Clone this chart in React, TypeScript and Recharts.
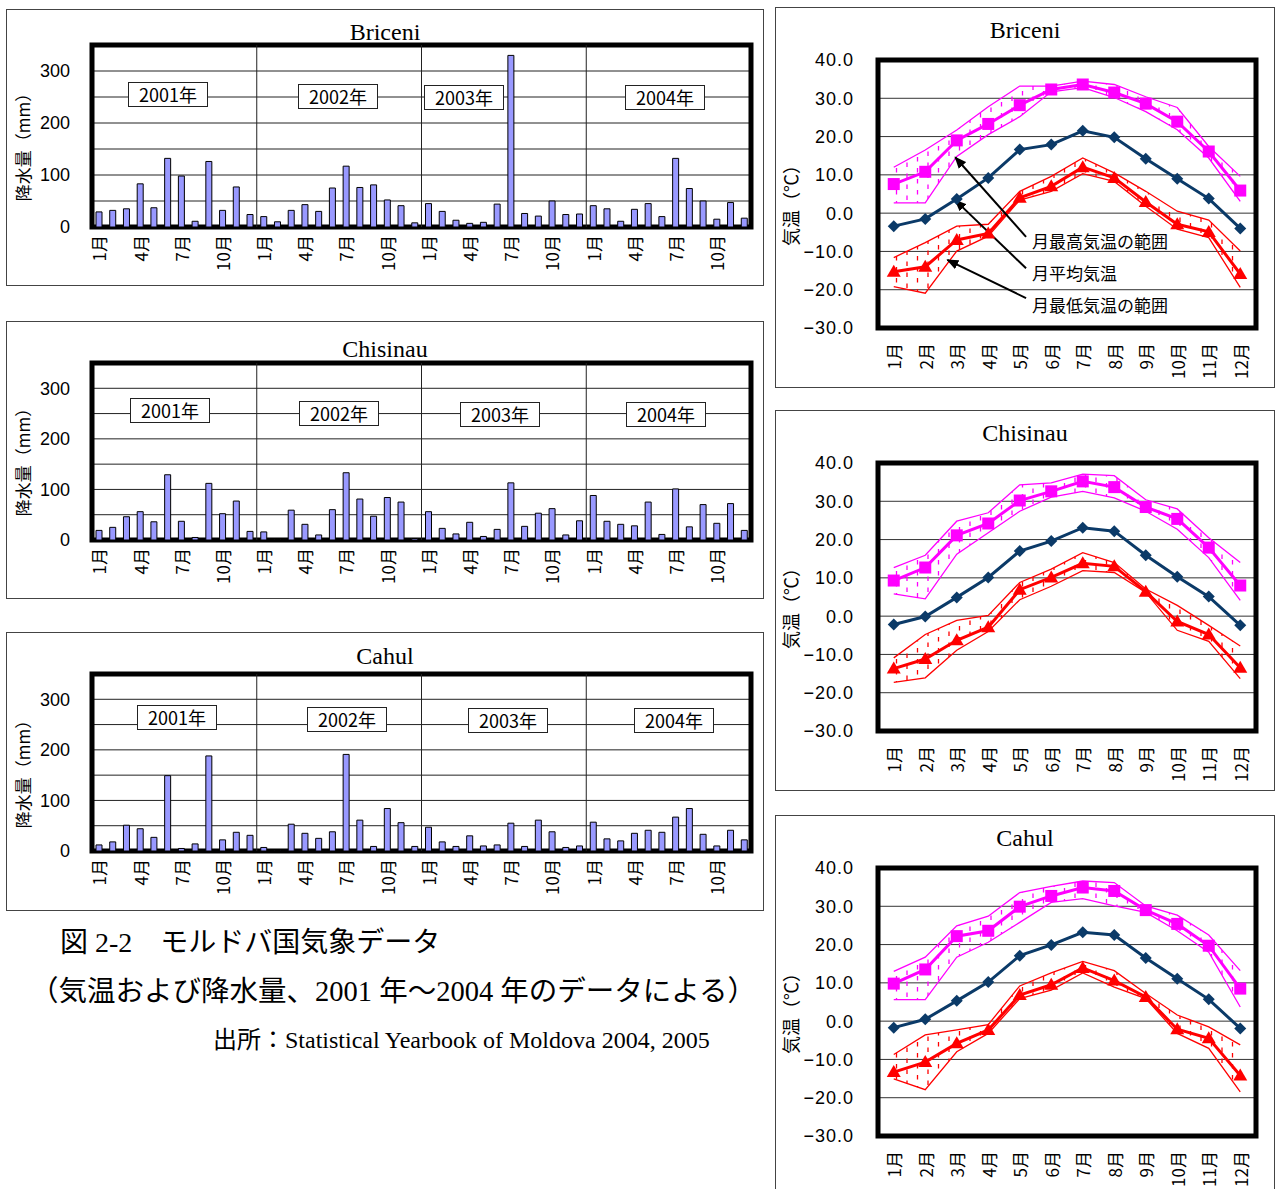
import React from "react";
import {
  Area,
  Bar,
  BarChart,
  CartesianGrid,
  ComposedChart,
  Line,
  ReferenceArea,
  ReferenceLine,
  XAxis,
  YAxis,
} from "recharts";

const YEARS = ["2001年", "2002年", "2003年", "2004年"];
const MONTHS = ["1月", "2月", "3月", "4月", "5月", "6月", "7月", "8月", "9月", "10月", "11月", "12月"];
const MONTH_NUMS = [1, 2, 3, 4, 5, 6, 7, 8, 9, 10, 11, 12];
const RAIN_TICKS = [0, 50, 100, 150, 200, 250, 300];
const TEMP_TICKS = [-30, -20, -10, 0, 10, 20, 30, 40];

// monthly precipitation (mm), Jan 2001 .. Dec 2004
const briceniRain = [
  29, 32, 35, 83, 37, 132, 98, 11, 126, 32, 77, 24,
  20, 10, 32, 43, 30, 75, 117, 76, 81, 52, 41, 8,
  45, 30, 13, 7, 9, 44, 330, 26, 21, 50, 24, 25,
  41, 35, 11, 34, 45, 20, 132, 74, 50, 15, 47, 17,
];
const chisinauRain = [
  19, 25, 46, 56, 36, 129, 37, 5, 112, 52, 77, 17,
  16, 1, 59, 31, 10, 60, 133, 81, 47, 84, 75, 3,
  56, 23, 12, 35, 7, 21, 113, 27, 53, 62, 10, 38,
  88, 37, 31, 28, 75, 11, 101, 26, 70, 33, 72, 19,
];
const cahulRain = [
  12, 18, 51, 44, 27, 149, 5, 14, 188, 22, 37, 31,
  7, 1, 53, 35, 25, 38, 191, 61, 9, 84, 56, 9,
  47, 18, 9, 30, 10, 12, 55, 9, 61, 38, 7, 10,
  57, 24, 20, 35, 41, 37, 67, 84, 33, 10, 41, 22,
];

// temperatures (°C), Jan..Dec
const briceniMax = [7.6, 10.8, 19.0, 23.3, 28.2, 32.3, 33.6, 31.5, 28.6, 23.9, 16.1, 5.9];
const briceniMaxHi = [12.0, 16.5, 21.7, 27.8, 33.2, 33.2, 34.5, 33.6, 30.4, 27.6, 17.4, 9.6];
const briceniMaxLo = [2.7, 2.7, 14.8, 20.5, 25.2, 31.7, 32.8, 30.2, 26.5, 21.8, 14.4, 3.1];
const briceniMean = [-3.4, -1.5, 3.7, 9.2, 16.6, 17.9, 21.5, 19.8, 14.2, 9.0, 3.8, -4.0];
const briceniMin = [-15.3, -14.0, -7.0, -5.3, 4.0, 7.0, 12.0, 9.2, 2.9, -2.9, -4.9, -15.9];
const briceniMinHi = [-11.6, -7.7, -3.4, -2.9, 5.7, 9.6, 14.4, 10.5, 5.7, 0.5, -1.8, -9.9];
const briceniMinLo = [-19.2, -20.9, -9.9, -6.0, 3.4, 5.7, 10.3, 8.3, 1.8, -4.2, -6.4, -19.4];

const chisinauMax = [9.3, 12.7, 21.1, 24.2, 30.2, 32.6, 35.2, 33.7, 28.5, 25.4, 17.9, 8.0];
const chisinauMaxHi = [12.7, 15.9, 24.8, 27.0, 34.3, 34.8, 37.1, 36.7, 30.4, 28.0, 20.5, 14.0];
const chisinauMaxLo = [5.8, 4.5, 16.2, 21.8, 27.4, 31.1, 32.6, 30.9, 27.4, 22.7, 15.3, 4.1];
const chisinauMean = [-2.2, -0.1, 4.9, 10.1, 17.0, 19.6, 23.1, 22.2, 15.9, 10.3, 5.1, -2.4];
const chisinauMin = [-13.7, -11.2, -6.3, -2.9, 6.9, 10.1, 13.8, 13.0, 6.4, -1.4, -4.8, -13.5];
const chisinauMinHi = [-10.9, -4.8, -1.1, 0.2, 8.8, 12.3, 16.6, 14.0, 7.1, 2.8, -2.4, -7.8];
const chisinauMinLo = [-17.3, -16.1, -8.9, -4.0, 4.3, 7.8, 11.9, 11.4, 6.2, -3.7, -6.6, -16.3];

const cahulMax = [9.8, 13.5, 22.2, 23.6, 29.9, 32.7, 34.9, 34.0, 29.0, 25.4, 19.7, 8.5];
const cahulMaxHi = [13.0, 16.7, 24.9, 27.4, 33.6, 35.2, 36.6, 36.2, 30.1, 27.7, 22.5, 13.2];
const cahulMaxLo = [5.6, 5.6, 16.7, 20.6, 25.8, 31.0, 32.0, 30.1, 28.4, 23.6, 18.0, 3.7];
const cahulMean = [-1.7, 0.5, 5.3, 10.2, 17.1, 19.9, 23.2, 22.5, 16.5, 11.1, 5.7, -1.9];
const cahulMin = [-13.3, -10.7, -5.8, -2.3, 6.8, 9.5, 13.9, 10.6, 6.3, -2.1, -4.5, -14.2];
const cahulMinHi = [-8.7, -3.6, -2.3, -0.9, 9.2, 12.6, 15.6, 13.2, 7.2, 1.6, -1.5, -6.2];
const cahulMinLo = [-15.1, -17.9, -8.0, -3.2, 5.9, 8.1, 12.6, 8.9, 5.9, -3.2, -7.1, -18.5];

const MAGENTA = "#ff00ff";
const RED = "#ff0000";
const NAVY = "#0b3a68";
const BAR_FILL = "#9999ff";

const SANS = '"Liberation Sans", "Noto Sans CJK JP", sans-serif';
const JP = '"Noto Sans CJK JP", "Liberation Sans", sans-serif';
const SERIF = '"Liberation Serif", "Noto Sans CJK JP", serif';

// month slots on the precipitation axis: slot i spans [i, i+1], 48 slots
const RAIN_LABEL_TICKS = Array.from({ length: 16 }, (_, k) => k * 3 + 0.5);
const YEAR_BOUNDS = [12, 24, 36];

// arrows of the legend notes in the Briceni chart, in data units (month, °C)
const NOTE_ARROWS = [
  [{ x: 5.2, y: -6.2 }, { x: 2.95, y: 14.6 }],
  [{ x: 5.2, y: -14.4 }, { x: 2.95, y: 3.4 }],
  [{ x: 5.2, y: -22.2 }, { x: 2.7, y: -12.2 }],
];
const NOTE_TEXTS = ["月最高気温の範囲", "月平均気温", "月最低気温の範囲"];

function Rotated({ text, cx, cy, size, font }: any) {
  return (
    <div
      style={{
        position: "absolute",
        left: cx,
        top: cy,
        transform: "translate(-50%, -50%) rotate(-90deg)",
        whiteSpace: "nowrap",
        fontSize: size,
        fontFamily: font,
        lineHeight: 1,
      }}
    >
      {text}
    </div>
  );
}

const RainTick = (props: any) => {
  const { x, y, payload } = props;
  const m = Math.floor(Number(payload.value)) % 12;
  return (
    <text
      x={x}
      y={y}
      transform={`rotate(-90 ${x} ${y})`}
      textAnchor="end"
      dominantBaseline="central"
      fontSize={17}
      fontFamily={JP}
      fill="#000"
    >
      {MONTHS[m]}
    </text>
  );
};

const TempTick = (props: any) => {
  const { x, y, payload } = props;
  return (
    <text
      x={x}
      y={y}
      transform={`rotate(-90 ${x} ${y})`}
      textAnchor="end"
      dominantBaseline="central"
      fontSize={17}
      fontFamily={JP}
      fill="#000"
    >
      {MONTHS[payload.value - 1]}
    </text>
  );
};

function RainPanel({ title, values, top, height, plotTop, plotBottom, titleY, labelY, boxes }: any) {
  const rows = values.map((v: number, i: number) => ({ slot: i + 0.5, rain: v }));
  const innerH = height - 2;
  const bottomSpace = top + height - 1 - plotBottom;
  return (
    <>
      <div
        style={{
          position: "absolute",
          left: 6,
          top,
          width: 758,
          height,
          border: "1px solid #444",
          boxSizing: "border-box",
        }}
      >
        <BarChart
          width={756}
          height={innerH}
          data={rows}
          margin={{ top: plotTop - top - 1, right: 12, bottom: 5, left: 30 }}
        >
          <CartesianGrid vertical={false} stroke="#222" />
          <XAxis
            dataKey="slot"
            type="number"
            domain={[0, 48]}
            ticks={RAIN_LABEL_TICKS}
            interval={0}
            tickLine={false}
            axisLine={false}
            tickSize={0}
            tickMargin={8}
            height={bottomSpace - 5}
            tick={RainTick}
          />
          <YAxis
            domain={[0, 350]}
            ticks={RAIN_TICKS}
            interval={0}
            tickFormatter={(v: number) => (v % 100 === 0 ? String(v) : "")}
            tick={{ fontSize: 18, fontFamily: SANS, fill: "#000" }}
            tickLine={false}
            axisLine={false}
            tickSize={0}
            tickMargin={22}
            width={55}
          />
          {YEAR_BOUNDS.map((b) => (
            <ReferenceLine key={b} x={b} stroke="#222" strokeWidth={1} />
          ))}
          <Bar dataKey="rain" barSize={6} fill={BAR_FILL} stroke="#000" strokeWidth={1} isAnimationActive={false} />
          <ReferenceArea
            x1={0}
            x2={48}
            y1={0}
            y2={350}
            fill="none"
            fillOpacity={0}
            stroke="#000"
            strokeWidth={5}
          />
        </BarChart>
      </div>
      <div
        style={{
          position: "absolute",
          left: 6,
          width: 758,
          top: titleY - 13,
          textAlign: "center",
          fontSize: 24,
          fontFamily: SERIF,
          lineHeight: "26px",
        }}
      >
        {title}
      </div>
      <Rotated text="降水量（mm）" cx={22} cy={labelY} size={17} font={JP} />
      {boxes.map((b: number[], i: number) => (
        <div
          key={i}
          style={{
            position: "absolute",
            left: b[0],
            top: b[1],
            width: 80,
            height: 25,
            boxSizing: "border-box",
            border: "1.5px solid #222",
            background: "#fff",
            fontSize: 18,
            fontFamily: JP,
            lineHeight: "22px",
            textAlign: "center",
          }}
        >
          {YEARS[i]}
        </div>
      ))}
    </>
  );
}

const squareDot = (p: any) => (
  <rect key={`s${p.index}`} x={p.cx - 6} y={p.cy - 6} width={12} height={12} fill={MAGENTA} />
);
const diamondDot = (p: any) => (
  <polygon
    key={`d${p.index}`}
    points={`${p.cx},${p.cy - 6} ${p.cx + 6},${p.cy} ${p.cx},${p.cy + 6} ${p.cx - 6},${p.cy}`}
    fill={NAVY}
  />
);
const triangleDot = (p: any) => (
  <polygon
    key={`t${p.index}`}
    points={`${p.cx},${p.cy - 7} ${p.cx + 7},${p.cy + 5} ${p.cx - 7},${p.cy + 5}`}
    fill={RED}
  />
);

function TempPanel({ id, title, top, s, notes }: any) {
  const data = MONTH_NUMS.map((m, i) => ({
    m,
    max: s.max[i],
    maxHi: s.maxHi[i],
    maxLo: s.maxLo[i],
    maxBand: [s.maxLo[i], s.maxHi[i]],
    mean: s.mean[i],
    min: s.min[i],
    minHi: s.minHi[i],
    minLo: s.minLo[i],
    minBand: [s.minLo[i], s.minHi[i]],
  }));
  return (
    <>
      <div
        style={{
          position: "absolute",
          left: 775,
          top,
          width: 500,
          height: 381,
          border: "1px solid #444",
          boxSizing: "border-box",
        }}
      >
        <ComposedChart width={498} height={379} data={data} margin={{ top: 52, right: 18, bottom: 5, left: 40 }}>
          <defs>
            <pattern id={`hm${id}`} width="21" height="11" patternUnits="userSpaceOnUse">
              <line x1="5" y1="0.5" x2="5" y2="5" stroke={MAGENTA} strokeWidth="1.3" />
              <line x1="15.5" y1="6" x2="15.5" y2="10.5" stroke={MAGENTA} strokeWidth="1.3" />
            </pattern>
            <pattern id={`hr${id}`} width="21" height="11" patternUnits="userSpaceOnUse">
              <line x1="5" y1="0.5" x2="5" y2="5" stroke={RED} strokeWidth="1.3" />
              <line x1="15.5" y1="6" x2="15.5" y2="10.5" stroke={RED} strokeWidth="1.3" />
            </pattern>
            <marker id={`ah${id}`} markerWidth="12" markerHeight="10" refX="11" refY="5" orient="auto" markerUnits="userSpaceOnUse">
              <path d="M0,0 L12,5 L0,10 z" fill="#000" />
            </marker>
          </defs>
          <CartesianGrid vertical={false} stroke="#333" />
          <XAxis
            xAxisId="tk"
            type="number"
            domain={[0.5, 12.5]}
            ticks={[1.5, 2.5, 3.5, 4.5, 5.5, 6.5, 7.5, 8.5, 9.5, 10.5, 11.5]}
            tick={false}
            axisLine={false}
            tickLine={{ stroke: "#000" }}
            tickSize={6}
            mirror
            height={0}
          />
          <XAxis
            dataKey="m"
            type="number"
            domain={[0.5, 12.5]}
            ticks={MONTH_NUMS}
            interval={0}
            tickLine={false}
            axisLine={false}
            tick={TempTick}
            tickSize={0}
            tickMargin={15}
            height={54}
          />
          <YAxis
            domain={[-30, 40]}
            ticks={TEMP_TICKS}
            interval={0}
            tickFormatter={(v: number) => v.toFixed(1).replace("-", "−")}
            tick={{ fontSize: 18, fontFamily: SANS, fill: "#000", letterSpacing: 1 }}
            tickLine={false}
            axisLine={false}
            tickSize={0}
            tickMargin={24}
            width={62}
          />
          <Area dataKey="maxBand" stroke="none" fill={`url(#hm${id})`} fillOpacity={1} isAnimationActive={false} />
          <Area dataKey="minBand" stroke="none" fill={`url(#hr${id})`} fillOpacity={1} isAnimationActive={false} />
          <Line dataKey="maxHi" stroke={MAGENTA} strokeWidth={1.3} dot={false} isAnimationActive={false} />
          <Line dataKey="maxLo" stroke={MAGENTA} strokeWidth={1.3} dot={false} isAnimationActive={false} />
          <Line dataKey="minHi" stroke={RED} strokeWidth={1.3} dot={false} isAnimationActive={false} />
          <Line dataKey="minLo" stroke={RED} strokeWidth={1.3} dot={false} isAnimationActive={false} />
          <Line dataKey="max" stroke={MAGENTA} strokeWidth={3} dot={squareDot} isAnimationActive={false} />
          <Line dataKey="mean" stroke={NAVY} strokeWidth={3} dot={diamondDot} isAnimationActive={false} />
          <Line dataKey="min" stroke={RED} strokeWidth={3} dot={triangleDot} isAnimationActive={false} />
          {notes &&
            NOTE_ARROWS.map((seg, i) => (
              <ReferenceLine
                key={`n${i}`}
                segment={seg}
                stroke="#000"
                strokeWidth={2}
                ifOverflow="extendDomain"
                shape={(p: any) => (
                  <line x1={p.x1} y1={p.y1} x2={p.x2} y2={p.y2} stroke="#000" strokeWidth={2} markerEnd={`url(#ah${id})`} />
                )}
              />
            ))}
          <ReferenceArea
            xAxisId={0}
            x1={0.5}
            x2={12.5}
            y1={-30}
            y2={40}
            fill="none"
            fillOpacity={0}
            stroke="#000"
            strokeWidth={5}
          />
        </ComposedChart>
      </div>
      <div
        style={{
          position: "absolute",
          left: 775,
          width: 500,
          top: top + 10,
          textAlign: "center",
          fontSize: 24,
          fontFamily: SERIF,
          lineHeight: "26px",
        }}
      >
        {title}
      </div>
      <Rotated text="気温（℃）" cx={790} cy={top + 194} size={18} font={JP} />
      {notes &&
        NOTE_TEXTS.map((t, i) => (
          <div
            key={t}
            style={{
              position: "absolute",
              left: 1032,
              top: top + 224 + i * 32,
              fontSize: 17,
              fontFamily: JP,
              lineHeight: "20px",
              whiteSpace: "nowrap",
            }}
          >
            {t}
          </div>
        ))}
    </>
  );
}

export default function App() {
  return (
    <div style={{ position: "absolute", left: 0, top: 0, width: 1275, height: 1189, background: "#fff", overflow: "hidden" }}>
      <RainPanel
        title="Briceni"
        values={briceniRain}
        top={9}
        height={277}
        plotTop={45}
        plotBottom={227}
        titleY={32}
        labelY={143}
        boxes={[[128, 82], [298, 84], [424, 85], [625, 85]]}
      />
      <RainPanel
        title="Chisinau"
        values={chisinauRain}
        top={321}
        height={278}
        plotTop={363}
        plotBottom={540}
        titleY={349}
        labelY={458}
        boxes={[[130, 398], [299, 401], [460, 402], [626, 402]]}
      />
      <RainPanel
        title="Cahul"
        values={cahulRain}
        top={632}
        height={279}
        plotTop={674}
        plotBottom={851}
        titleY={656}
        labelY={770}
        boxes={[[137, 705], [307, 707], [468, 708], [634, 708]]}
      />
      <TempPanel
        id="b"
        title="Briceni"
        top={7}
        notes
        s={{ max: briceniMax, maxHi: briceniMaxHi, maxLo: briceniMaxLo, mean: briceniMean, min: briceniMin, minHi: briceniMinHi, minLo: briceniMinLo }}
      />
      <TempPanel
        id="c"
        title="Chisinau"
        top={410}
        s={{ max: chisinauMax, maxHi: chisinauMaxHi, maxLo: chisinauMaxLo, mean: chisinauMean, min: chisinauMin, minHi: chisinauMinHi, minLo: chisinauMinLo }}
      />
      <TempPanel
        id="h"
        title="Cahul"
        top={815}
        s={{ max: cahulMax, maxHi: cahulMaxHi, maxLo: cahulMaxLo, mean: cahulMean, min: cahulMin, minHi: cahulMinHi, minLo: cahulMinLo }}
      />
      <div style={{ position: "absolute", left: 60, top: 926, fontSize: 28, fontFamily: SERIF, whiteSpace: "nowrap", lineHeight: "34px" }}>
        図 2-2　モルドバ国気象データ
      </div>
      <div style={{ position: "absolute", left: 30, top: 975, fontSize: 28.5, fontFamily: SERIF, whiteSpace: "nowrap", lineHeight: "34px" }}>
        （気温および降水量、2001 年～2004 年のデータによる）
      </div>
      <div style={{ position: "absolute", left: 213, top: 1026, fontSize: 24, fontFamily: SERIF, whiteSpace: "nowrap", lineHeight: "28px" }}>
        出所：Statistical Yearbook of Moldova 2004, 2005
      </div>
    </div>
  );
}
